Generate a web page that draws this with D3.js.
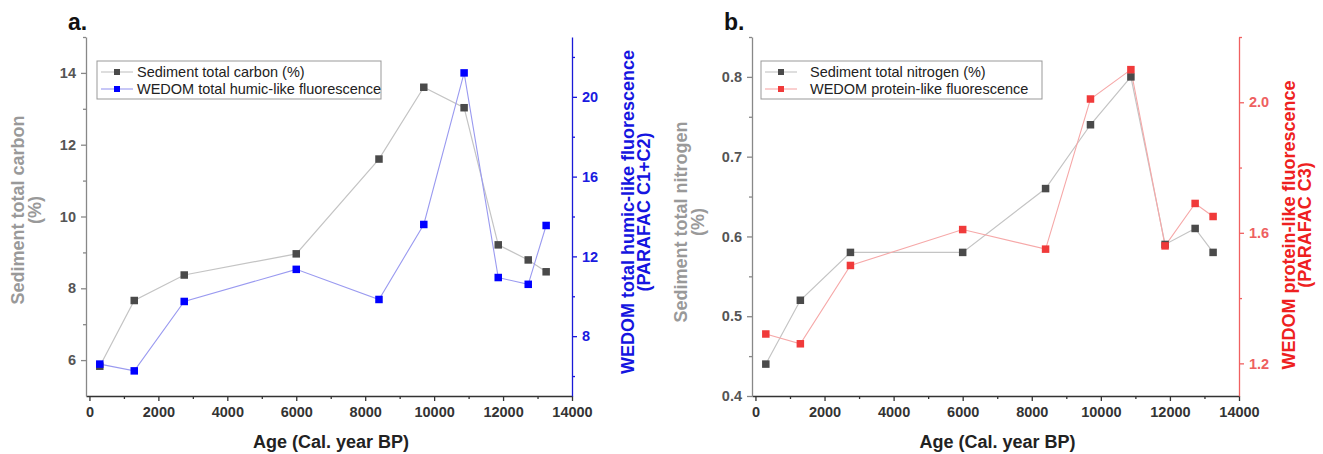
<!DOCTYPE html>
<html>
<head>
<meta charset="utf-8">
<script src="https://cdn.jsdelivr.net/npm/d3@7"></script>
<style>
  body { margin: 0; background: #fff; }
  svg { font-family: Arial, "Liberation Sans", sans-serif; }
</style>
</head>
<body>
<svg id="chart" width="1323" height="454"></svg>
<script>
// sample ages (Cal. year BP), shared by both panels
const ages = [300, 1300, 2750, 6000, 8400, 9700, 10870, 11860, 12730, 13250];

// panel a
const carbon = [5.83, 7.66, 8.37, 8.96, 11.6, 13.6, 13.03, 9.21, 8.79, 8.46];
const humic = [6.6, 6.26, 9.74, 11.35, 9.84, 13.6, 21.2, 10.94, 10.6, 13.55];

// panel b
const nitrogen = [0.44, 0.52, 0.58, 0.58, 0.66, 0.74, 0.8, 0.59, 0.61, 0.58];
const protein = [1.29, 1.26, 1.5, 1.61, 1.55, 2.01, 2.1, 1.56, 1.69, 1.65];

const xTicks = [0, 2000, 4000, 6000, 8000, 10000, 12000, 14000];
const xMinor = [1000, 3000, 5000, 7000, 9000, 11000, 13000];

const svg = d3.select("#chart");

function drawPanel(cfg) {
  const x = d3.scaleLinear().domain([-100, 14000]).range([cfg.left, cfg.right]);
  const yL = d3.scaleLinear().domain(cfg.leftDomain).range([396, 37]);
  const yR = d3.scaleLinear().domain(cfg.rightDomain).range([396, 37]);

  const g = svg.append("g");

  // x axis: major + minor ticks
  const xAxis = g.append("g").attr("transform", "translate(0,396)");
  xAxis.call(d3.axisBottom(x).tickValues(xTicks).tickFormat(d3.format("d")).tickSize(5).tickPadding(6).tickSizeOuter(0));
  xAxis.append("g").call(
    d3.axisBottom(x).tickValues(xMinor).tickSize(3).tickFormat("").tickSizeOuter(0)
  ).select(".domain").remove();
  xAxis.selectAll("path, line").attr("stroke", "#333").attr("stroke-width", 1.3);
  xAxis.selectAll("text").attr("fill", "#333").attr("font-size", 14.5).attr("font-weight", "bold");

  // left axis
  const lAxis = g.append("g").attr("transform", `translate(${cfg.left},0)`);
  lAxis.call(d3.axisLeft(yL).tickValues(cfg.leftTicks).tickFormat(cfg.leftFmt).tickSize(5).tickPadding(5).tickSizeOuter(0));
  lAxis.append("g").call(
    d3.axisLeft(yL).tickValues(cfg.leftMinor).tickSize(3).tickFormat("").tickSizeOuter(0)
  ).select(".domain").remove();
  lAxis.selectAll("path, line").attr("stroke", "#888").attr("stroke-width", 1.3);
  lAxis.selectAll("text").attr("fill", "#555").attr("font-size", 14.5).attr("font-weight", "bold");

  // right axis
  const rAxis = g.append("g").attr("transform", `translate(${cfg.right},0)`);
  rAxis.call(d3.axisRight(yR).tickValues(cfg.rightTicks).tickFormat(cfg.rightFmt).tickSize(5).tickPadding(5).tickSizeOuter(0));
  rAxis.append("g").call(
    d3.axisRight(yR).tickValues(cfg.rightMinor).tickSize(3).tickFormat("").tickSizeOuter(0)
  ).select(".domain").remove();
  rAxis.selectAll("path, line").attr("stroke", cfg.rAxisColor).attr("stroke-width", 1.3);
  rAxis.selectAll("text").attr("fill", cfg.rTickColor).attr("font-size", 14.5).attr("font-weight", "bold");

  // lines
  const lineL = d3.line().x((d, i) => x(ages[i])).y((d) => yL(d));
  const lineR = d3.line().x((d, i) => x(ages[i])).y((d) => yR(d));

  g.append("path").attr("d", lineL(cfg.leftData)).attr("fill", "none")
    .attr("stroke", "#c4c4c4").attr("stroke-width", 1.2);
  g.append("path").attr("d", lineR(cfg.rightData)).attr("fill", "none")
    .attr("stroke", cfg.rLineColor).attr("stroke-width", 1.1);

  g.selectAll(".mL").data(cfg.leftData).enter().append("rect")
    .attr("x", (d, i) => x(ages[i]) - 3.75).attr("y", (d) => yL(d) - 3.75)
    .attr("width", 7.5).attr("height", 7.5).attr("fill", "#4a4a4a");
  g.selectAll(".mR").data(cfg.rightData).enter().append("rect")
    .attr("x", (d, i) => x(ages[i]) - 3.75).attr("y", (d) => yR(d) - 3.75)
    .attr("width", 7.5).attr("height", 7.5).attr("fill", cfg.rMarkColor);

  // panel letter
  g.append("text").attr("x", cfg.letterX).attr("y", 30)
    .attr("font-size", 23).attr("font-weight", "bold").attr("fill", "#111").text(cfg.letter);

  // axis titles
  g.append("text").attr("x", (cfg.left + cfg.right) / 2 + 2).attr("y", 448)
    .attr("text-anchor", "middle").attr("font-size", 18).attr("font-weight", "bold")
    .attr("fill", "#222").text("Age (Cal. year BP)");

  const lt = g.append("text").attr("transform", `translate(${cfg.left + cfg.lTitleDx},${cfg.lTitleY}) rotate(-90)`)
    .attr("text-anchor", "middle").attr("font-size", 18).attr("font-weight", "bold").attr("fill", "#999");
  lt.append("tspan").attr("x", 0).attr("dy", 0).text(cfg.lTitle);
  lt.append("tspan").attr("x", 0).attr("dy", 17).text("(%)");

  const rt = g.append("text").attr("transform", `translate(${cfg.right + cfg.rTitleDx},${cfg.rTitleY}) rotate(-90)`)
    .attr("text-anchor", "middle").attr("font-size", 18).attr("font-weight", "bold").attr("fill", cfg.rTitleColor);
  rt.append("tspan").attr("x", 0).attr("dy", 0).text(cfg.rTitle);
  rt.append("tspan").attr("x", 0).attr("dy", 16).text(cfg.rTitle2);

  // legend
  const lg = g.append("g").attr("transform", `translate(${cfg.legX},61)`);
  lg.append("rect").attr("width", cfg.legW).attr("height", 38)
    .attr("fill", "#fff").attr("stroke", "#999").attr("stroke-width", 1);
  const items = [
    { label: cfg.leftLabel, line: "#c4c4c4", mark: "#4a4a4a" },
    { label: cfg.rightLabel, line: cfg.rLineColor, mark: cfg.rMarkColor },
  ];
  items.forEach((it, i) => {
    const yy = 11 + i * 17;
    lg.append("line").attr("x1", 4).attr("x2", 36).attr("y1", yy).attr("y2", yy)
      .attr("stroke", it.line).attr("stroke-width", 1.1);
    lg.append("rect").attr("x", 17).attr("y", yy - 3).attr("width", 6).attr("height", 6).attr("fill", it.mark);
    lg.append("text").attr("x", cfg.legTextX).attr("y", yy + 5).attr("font-size", 14.5)
      .attr("fill", "#222").text(it.label);
  });
}

drawPanel({
  letter: "a.", letterX: 68,
  left: 86, right: 572,
  leftDomain: [5, 15], leftTicks: [6, 8, 10, 12, 14], leftMinor: [7, 9, 11, 13, 15], leftFmt: d3.format("d"),
  rightDomain: [5, 23], rightTicks: [8, 12, 16, 20], rightMinor: [6, 10, 14, 18, 22], rightFmt: d3.format("d"),
  leftData: carbon, rightData: humic,
  rAxisColor: "#1a1ad8", rTickColor: "#1a1ae0", rLineColor: "#9a9af0", rMarkColor: "#0000ff", rTitleColor: "#1515e0",
  lTitle: "Sediment total carbon", lTitleY: 210, lTitleDx: -62,
  rTitle: "WEDOM total humic-like fluorescence", rTitle2: "(PARAFAC C1+C2)", rTitleY: 212, rTitleDx: 62,
  leftLabel: "Sediment total carbon (%)", rightLabel: "WEDOM total humic-like fluorescence",
  legX: 97, legW: 284, legTextX: 40,
});

drawPanel({
  letter: "b.", letterX: 724,
  left: 752, right: 1239,
  leftDomain: [0.4, 0.85], leftTicks: [0.4, 0.5, 0.6, 0.7, 0.8], leftMinor: [0.45, 0.55, 0.65, 0.75, 0.85], leftFmt: d3.format(".1f"),
  rightDomain: [1.1, 2.2], rightTicks: [1.2, 1.6, 2.0], rightMinor: [1.4, 1.8, 2.2], rightFmt: d3.format(".1f"),
  leftData: nitrogen, rightData: protein,
  rAxisColor: "#f06060", rTickColor: "#ee6060", rLineColor: "#f6a8a8", rMarkColor: "#f03a3a", rTitleColor: "#ee2020",
  lTitle: "Sediment total nitrogen", lTitleY: 222, lTitleDx: -65,
  rTitle: "WEDOM protein-like fluorescence", rTitle2: "(PARAFAC C3)", rTitleY: 225, rTitleDx: 56,
  leftLabel: "Sediment total nitrogen (%)", rightLabel: "WEDOM protein-like fluorescence",
  legX: 761, legW: 281, legTextX: 49,
});
</script>
</body>
</html>
